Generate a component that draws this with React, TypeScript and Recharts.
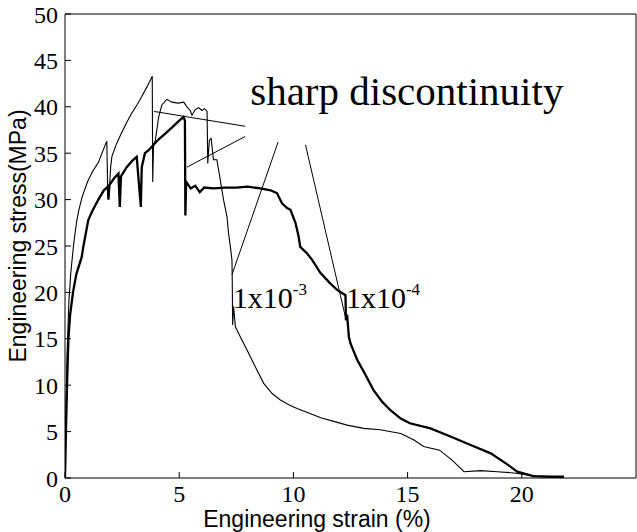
import React from 'react';
import { LineChart, Line, XAxis, YAxis, ReferenceLine, ReferenceDot } from 'recharts';

// strain (%) / stress (MPa), rate 1x10^-3 (thin curve)
const strainFast = [0, 0.05, 0.1, 0.17, 0.25, 0.37, 0.5, 0.6, 0.75, 1.0, 1.2, 1.46, 1.65, 1.83, 1.87, 1.92, 2.0, 2.05, 2.25, 2.48, 2.7, 2.92, 3.15, 3.36, 3.6, 3.82, 3.84, 3.88, 3.95, 4.1, 4.24, 4.46, 4.68, 4.96, 5.2, 5.34, 5.48, 5.56, 5.7, 5.85, 6.0, 6.11, 6.22, 6.25, 6.32, 6.4, 6.5, 6.65, 6.8, 6.94, 7.09, 7.16, 7.24, 7.31, 7.32, 7.34, 7.38, 7.46, 7.68, 7.97, 8.33, 8.7, 9.07, 9.43, 9.8, 10.16, 10.67, 11.2, 11.77, 12.35, 13.08, 13.8, 14.7, 15.28, 15.7, 16.4, 16.96, 17.47, 18.2, 18.93, 19.66, 20.8, 21.85];
const stressFast = [0, 8, 14, 19, 22, 25, 27.5, 28.8, 30.3, 32, 33, 34, 35.2, 36.3, 31, 30.3, 33.5, 34.6, 36, 37.2, 38.3, 39.3, 40.2, 41.1, 42.2, 43.3, 31.9, 36, 36.3, 38.9, 40.2, 40.8, 40.5, 40.4, 40.5, 40.0, 39.6, 39.1, 39.7, 39.9, 39.6, 39.8, 39.5, 33.9, 36.4, 36.6, 34.3, 34.3, 32.1, 30, 28.2, 26.4, 24.9, 23.5, 21.9, 16.5, 18.5, 16.3, 15.2, 13.8, 12.0, 10.2, 9.1, 8.4, 7.9, 7.5, 7.0, 6.5, 6.1, 5.7, 5.35, 5.2, 4.8, 4.1, 3.4, 3.0, 1.9, 0.68, 0.79, 0.68, 0.54, 0.14, 0.03];

// rate 1x10^-4 (thick curve)
const strainSlow = [0, 0.05, 0.1, 0.15, 0.22, 0.35, 0.5, 0.73, 0.8, 1.02, 1.2, 1.46, 1.7, 1.88, 1.9, 1.95, 2.15, 2.34, 2.4, 2.45, 2.7, 2.95, 3.14, 3.32, 3.36, 3.5, 3.65, 3.95, 4.1, 4.39, 4.7, 5.0, 5.19, 5.25, 5.27, 5.3, 5.34, 5.5, 5.7, 5.9, 6.1, 6.5, 7.0, 7.5, 8.0, 8.55, 9.0, 9.28, 9.5, 9.72, 9.87, 10.09, 10.23, 10.3, 10.6, 10.82, 11.18, 11.6, 11.9, 12.28, 12.3, 12.35, 12.43, 12.5, 12.8, 13.16, 13.5, 13.89, 14.25, 14.7, 15.1, 16.0, 16.9, 17.76, 18.64, 19.3, 19.8, 20.5, 21.3, 21.85];
const stressSlow = [0, 6, 11, 15, 17.5, 20, 22, 23.8, 24.9, 27.8, 28.8, 30, 31, 31.4, 30, 31.6, 32.3, 32.8, 29.2, 32.5, 33.5, 34.2, 34.6, 29.2, 33.5, 35, 35.3, 36.1, 36.5, 37.1, 37.8, 38.5, 38.9, 38.5, 28.3, 31.5, 31.8, 31.2, 31.5, 30.8, 31.3, 31.2, 31.3, 31.3, 31.4, 31.2, 31.0, 30.7, 29.6, 29.1, 28.9, 27.5, 26.0, 24.9, 24.2, 23.5, 22.1, 21.0, 20.3, 19.7, 17.0, 17.6, 15.2, 14.5, 12.7, 11.1, 9.5, 8.2, 7.3, 6.4, 5.9, 5.35, 4.45, 3.55, 2.66, 1.58, 0.68, 0.2, 0.14, 0.14];

const xTicks = [0, 5, 10, 15, 20];
const yTicks = [0, 5, 10, 15, 20, 25, 30, 35, 40, 45, 50];

// leader lines [x1, y1, x2, y2]
const leaders = [
  [3.9, 39.5, 7.89, 37.9],
  [5.34, 33.5, 7.89, 36.8],
  [9.33, 36.2, 7.31, 21.9],
  [10.53, 35.9, 12.31, 17.0],
];

const fast = strainFast.map((x, i) => ({ x, y: stressFast[i] }));
const slow = strainSlow.map((x, i) => ({ x, y: stressSlow[i] }));

const serif = '"Liberation Serif", "Times New Roman", serif';
const sans = '"Liberation Sans", Arial, sans-serif';

const tickFont = { fill: '#000', fontSize: 24, fontFamily: serif };

const RateLabel = ({ viewBox, exp }: any) => (
  <text x={viewBox.x} y={viewBox.y} fontFamily={serif} fontSize={30} fill="#000">
    1x10
    <tspan dy={-13} fontSize={17}>{exp}</tspan>
  </text>
);

const App = () => {
  return (
    <div style={{ position: 'absolute', left: 0, top: 0, background: '#fff' }}>
      <LineChart width={637} height={532} margin={{ top: 13, right: 0, bottom: 0, left: 0 }}>
        <XAxis
          type="number"
          dataKey="x"
          domain={[0, 25]}
          ticks={xTicks}
          allowDataOverflow
          height={54}
          stroke="#000"
          tickSize={-6}
          tickMargin={13}
          tick={tickFont}
          label={{
            content: ({ viewBox }: any) => (
              <text x={317} y={viewBox.y + 49} textAnchor="middle" fontFamily={sans} fontSize={23} fill="#000">
                Engineering strain (%)
              </text>
            ),
          }}
        />
        <XAxis
          xAxisId="top"
          orientation="top"
          type="number"
          domain={[0, 25]}
          ticks={xTicks}
          height={1}
          stroke="#000"
          tickSize={-6}
          tickFormatter={() => ''}
        />
        <YAxis
          type="number"
          domain={[0, 50]}
          ticks={yTicks}
          width={65}
          stroke="#000"
          tickSize={-6}
          tickMargin={13}
          tick={tickFont}
          label={{
            content: ({ viewBox }: any) => {
              const cx = 26;
              const cy = viewBox.y + viewBox.height / 2 - 10;
              return (
                <text x={cx} y={cy} transform={`rotate(-90 ${cx} ${cy})`} textAnchor="middle" fontFamily={sans} fontSize={23} fill="#000">
                  Engineering stress(MPa)
                </text>
              );
            },
          }}
        />
        <YAxis
          yAxisId="right"
          orientation="right"
          type="number"
          domain={[0, 50]}
          ticks={yTicks}
          width={1}
          stroke="#000"
          tickSize={-6}
          tickFormatter={() => ''}
        />
        <Line data={slow} dataKey="y" type="linear" stroke="#000" strokeWidth={2.3} dot={false} isAnimationActive={false} />
        <Line data={fast} dataKey="y" type="linear" stroke="#000" strokeWidth={1.1} dot={false} isAnimationActive={false} />
        {leaders.map((s, i) => (
          <ReferenceLine
            key={i}
            segment={[{ x: s[0], y: s[1] }, { x: s[2], y: s[3] }]}
            stroke="#000"
            strokeWidth={1}
          />
        ))}
        <ReferenceDot
          x={8.11}
          y={40.2}
          r={0}
          label={{
            content: ({ viewBox }: any) => (
              <text x={viewBox.x} y={viewBox.y} fontFamily={serif} fontSize={41} fill="#000">
                sharp discontinuity
              </text>
            ),
          }}
        />
        <ReferenceDot x={7.35} y={18.3} r={0} label={{ content: (p: any) => <RateLabel {...p} exp="-3" /> }} />
        <ReferenceDot x={12.3} y={18.3} r={0} label={{ content: (p: any) => <RateLabel {...p} exp="-4" /> }} />
      </LineChart>
    </div>
  );
};

export default App;
